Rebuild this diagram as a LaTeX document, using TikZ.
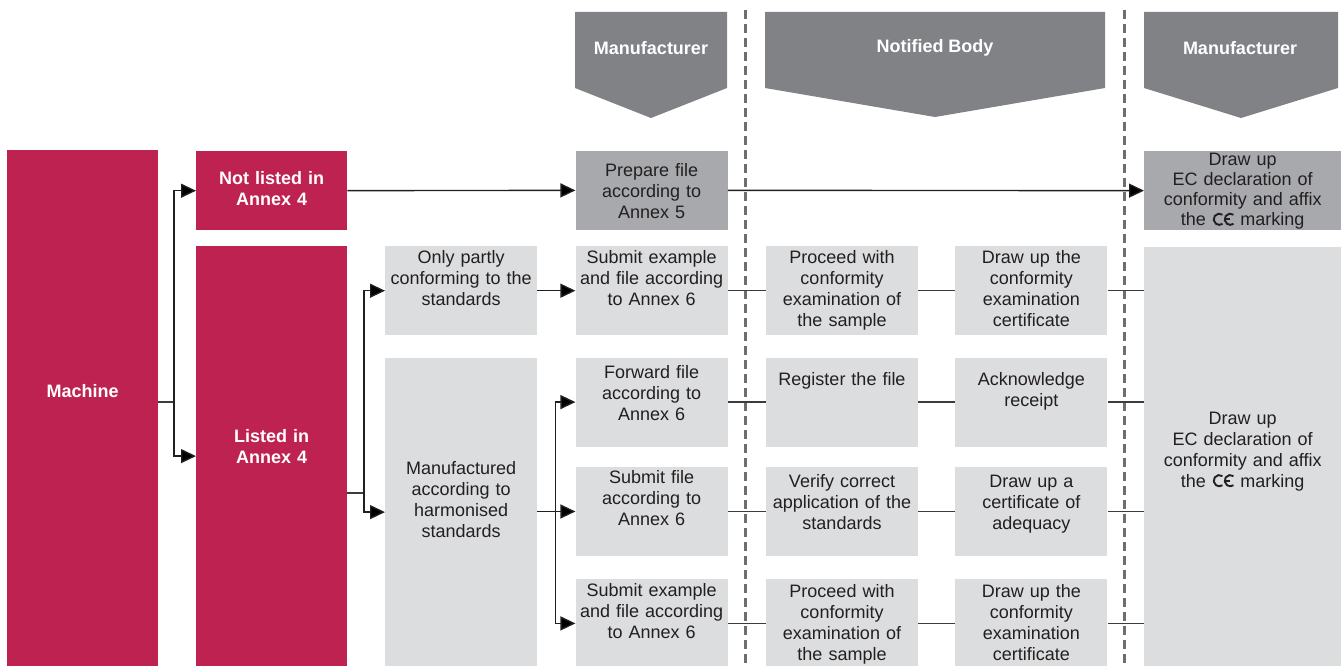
\documentclass[tikz,border=0pt]{standalone}
\usepackage{fontspec}
\setmainfont{Liberation Sans}
\usepackage{tikz}
\usetikzlibrary{arrows.meta, positioning}

\definecolor{crimson}{HTML}{BE2250}
\definecolor{cellgray}{HTML}{DCDDDE}
\definecolor{darkcell}{HTML}{A7A9AC}
\definecolor{headgray}{HTML}{808285}
\definecolor{ink}{HTML}{231F20}
\definecolor{linegray}{HTML}{3C3C3E}
\definecolor{dashgray}{HTML}{6D6E71}

% CE marking drawn as two arcs
\newcommand{\cemark}{\tikz[baseline=0pt, x=1pt, y=1pt, line width=1.9pt, draw=ink]{%
  \draw (6,6.45) ++(55:5.6) arc[start angle=55, end angle=305, radius=5.6];
  \draw (17,6.45) ++(55:5.6) arc[start angle=55, end angle=305, radius=5.6];
  \draw (11.4,6.45) -- (16.4,6.45);}}

\begin{document}
\begin{tikzpicture}[x=1pt, y=-1pt,
    cell/.style={rectangle, fill=cellgray, inner sep=0pt, text width=152pt, align=center, text=ink, font=\fontsize{18}{21}\selectfont},
    keycell/.style={cell, fill=darkcell},
    redcell/.style={cell, fill=crimson, text=white, text width=151pt, font=\bfseries\fontsize{18}{21}\selectfont},
    tb/.style 2 args={text height=#1pt, text depth=#2pt}, % baseline of first line inside box
    head/.style={text=white, font=\bfseries\fontsize{18}{21}\selectfont},
    chevron/.style={fill=headgray},
    arrow/.style={draw=ink, line width=1.4pt, -{Triangle[length=15pt, width=14pt]}},
    link/.style={draw=linegray, line width=1.4pt},
    divider/.style={draw=dashgray, line width=3pt, dash pattern=on 9pt off 5pt}
]
\useasboundingbox (0,0) rectangle (1341,666);

% Column headers
\fill[chevron] (575,12) -- (727,12) -- (727,88) -- (651,118) -- (575,88) -- cycle;
\fill[chevron] (765,12) -- (1105,12) -- (1105,88) -- (935,117) -- (765,88) -- cycle;
\fill[chevron] (1144,12) -- (1338,12) -- (1338,88) -- (1241,118) -- (1144,88) -- cycle;
\node[head] (hman1) at (651,48) {Manufacturer};
\node[head] (hbody) at (935,48) {Notified Body};
\node[head] (hman2) at (1240,48) {Manufacturer};

% Dividers between parties
\draw[divider] (745,10) -- (745,666);
\draw[divider] (1124,10) -- (1124,666);

% Machine and its two cases
\node[redcell, tb={247.5}{268.5}, anchor=north west] (mach) at (7,150) {Machine};
\node[redcell, tb={33.5}{45.5}, anchor=north west] (notl) at (196,151) {Not listed in\\Annex 4};
\node[redcell, tb={196.5}{224.5}, below=15pt of notl] (list) {Listed in\\Annex 4};

% Standards applied
\node[cell, tb={17.5}{71.5}, anchor=north west] (part) at (385,246) {Only partly\\conforming to the\\standards};
\node[cell, tb={116.5}{192.5}, below=22pt of part] (harm) {Manufactured\\according to\\harmonised\\standards};

% Manufacturer steps
\node[cell, tb={17.5}{71.5}, right=38pt of part] (sub1) {Submit example\\and file according\\to Annex 6};
\node[keycell, tb={25.5}{53.5}, above=16pt of sub1] (prep) {Prepare file\\according to\\Annex 5};
\node[cell, tb={20.5}{68.5}, below=22pt of sub1] (fwd) {Forward file\\according to\\Annex 6};
\node[cell, tb={16.5}{72.5}, below=20pt of fwd] (subf) {Submit file\\according to\\Annex 6};
\node[cell, tb={17.5}{70.5}, below=23pt of subf] (sub2) {Submit example\\and file according\\to Annex 6};

% Notified body steps
\node[cell, tb={17.5}{71.5}, right=38pt of sub1] (proc1) {Proceed with\\conformity\\examination of\\the sample};
\node[cell, tb={27.5}{61.5}, right=38pt of fwd] (reg) {Register the file};
\node[cell, tb={20.5}{68.5}, right=38pt of subf] (ver) {Verify correct\\application of the\\standards};
\node[cell, tb={18.5}{69.5}, right=38pt of sub2] (proc2) {Proceed with\\conformity\\examination of\\the sample};

\node[cell, tb={17.5}{71.5}, right=37pt of proc1] (cert1) {Draw up the\\conformity\\examination\\certificate};
\node[cell, tb={27.5}{61.5}, right=37pt of reg] (ack) {Acknowledge\\receipt};
\node[cell, tb={20.5}{68.5}, right=37pt of ver] (adeq) {Draw up a\\certificate of\\adequacy};
\node[cell, tb={18.5}{69.5}, right=37pt of proc2] (cert2) {Draw up the\\conformity\\examination\\certificate};

% Declaration of conformity
\node[keycell, tb={14.5}{64.5}, text width=197pt, font=\fontsize{18}{20}\selectfont, anchor=north west] (decl1) at (1144,151) {Draw up\\EC declaration of\\conformity and affix\\the \cemark\ marking};
\node[cell, tb={177.5}{242.5}, text width=197pt, below=16pt of decl1] (decl2) {Draw up\\EC declaration of\\conformity and affix\\the \cemark\ marking};

% Connections
\coordinate (split1) at (174,402);
\draw[link] (mach.east |- split1) -- (split1);
\draw[arrow] (split1) |- (notl.west);
\draw[arrow] (split1) |- (list.west);

\coordinate (split2) at (364,493);
\draw[link] (list.east |- split2) -- (split2);
\draw[arrow] (split2) |- (part.west);
\draw[arrow] (split2) |- (harm.west);

\path (subf.west) ++(-20pt,0pt) coordinate (split3);
\draw[arrow] (harm.east |- split3) -- (subf.west);
\draw[arrow] (split3) |- (fwd.west);
\draw[arrow] (split3) |- (sub2.west);

\draw[arrow] (notl) -- (prep);
\draw[arrow] (prep) -- (decl1);
\draw[arrow] (part) -- (sub1);

\draw[link] (sub1) -- (proc1);
\draw[link] (proc1) -- (cert1);
\draw[link] (cert1.east) -- (cert1.east -| decl2.west);
\draw[link] (fwd) -- (reg);
\draw[link] (reg) -- (ack);
\draw[link] (ack.east) -- (ack.east -| decl2.west);
\draw[link] (subf) -- (ver);
\draw[link] (ver) -- (adeq);
\draw[link] (adeq.east) -- (adeq.east -| decl2.west);
\draw[link] (sub2) -- (proc2);
\draw[link] (proc2) -- (cert2);
\draw[link] (cert2.east) -- (cert2.east -| decl2.west);

\end{tikzpicture}
\end{document}
